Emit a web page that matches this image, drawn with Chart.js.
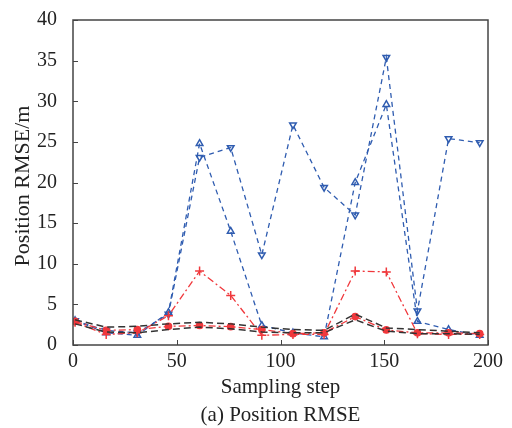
<!DOCTYPE html>
<html>
  <head>
    <script src="https://cdn.jsdelivr.net/npm/chart.js@4/dist/chart.umd.min.js"></script>
    <style>
      body { margin: 0; background: #fff; }
    </style>
  </head>
  <body>
    <div style="width: 512px; height: 428px">
      <canvas id="canvas"></canvas>
    </div>
    <script>
      // sampling steps and RMSE values
      const steps = [1, 16, 31, 46, 61, 76, 91, 106, 121, 136, 151, 166, 181, 196];
      const blueUp = [3.0, 1.5, 1.2, 4.0, 24.8, 14.0, 2.4, 1.5, 1.0, 20.0, 29.6, 2.9, 1.9, 1.2];
      const blueDown = [3.0, 1.8, 1.5, 3.8, 23.1, 24.3, 11.1, 27.1, 19.4, 16.0, 35.4, 4.2, 25.4, 24.9];
      const redCross = [2.8, 1.3, 1.5, 3.6, 9.1, 6.1, 1.2, 1.3, 1.3, 9.1, 9.0, 1.4, 1.3, 1.3];
      const redDot = [2.9, 1.8, 1.9, 2.3, 2.4, 2.25, 1.9, 1.4, 1.5, 3.5, 1.85, 1.5, 1.5, 1.4];
      const blackUpper = [3.1, 2.2, 2.3, 2.6, 2.8, 2.6, 2.2, 1.9, 1.8, 3.8, 2.1, 1.9, 1.7, 1.5];
      const blackLower = [2.6, 1.6, 1.5, 1.9, 2.2, 2.0, 1.6, 1.5, 1.5, 3.1, 1.7, 1.4, 1.4, 1.3];
      const xTicks = [0, 50, 100, 150, 200];
      const yTicks = [0, 5, 10, 15, 20, 25, 30, 35, 40];
      const xTitle = 'Sampling step';
      const yTitle = 'Position RMSE/m';
      const caption = '(a) Position RMSE';

      const pts = (vals) => vals.map((v, i) => ({ x: steps[i], y: v }));
      const serif = 'Liberation Serif, Times New Roman, serif';
      const blue = '#2f5cb0';
      const red = '#f0383c';
      const ink = '#222';

      // MATLAB style box with inward ticks, x labels and titles
      const frame = {
        id: 'frame',
        afterDraw(chart) {
          const { ctx, chartArea: a, scales } = chart;
          const cx = (a.left + a.right) / 2;
          ctx.save();
          ctx.strokeStyle = '#444';
          ctx.lineWidth = 1.5;
          ctx.strokeRect(a.left, a.top, a.right - a.left, a.bottom - a.top);
          ctx.lineWidth = 1;
          ctx.beginPath();
          xTicks.forEach((t) => {
            const px = Math.round(scales.x.getPixelForValue(t)) + 0.5;
            ctx.moveTo(px, a.bottom);
            ctx.lineTo(px, a.bottom - 5);
          });
          yTicks.forEach((t) => {
            const py = Math.round(scales.y.getPixelForValue(t)) + 0.5;
            ctx.moveTo(a.left, py);
            ctx.lineTo(a.left + 5, py);
          });
          ctx.stroke();

          ctx.fillStyle = ink;
          ctx.textAlign = 'center';
          ctx.textBaseline = 'middle';
          ctx.font = '20px ' + serif;
          xTicks.forEach((t) => {
            ctx.fillText(String(t), scales.x.getPixelForValue(t), a.bottom + 17);
          });
          ctx.font = '21px ' + serif;
          ctx.fillText(xTitle, cx, a.bottom + 42);
          ctx.fillText(caption, cx, a.bottom + 70);

          ctx.translate(23, 186);
          ctx.rotate(-Math.PI / 2);
          ctx.font = '22px ' + serif;
          ctx.fillText(yTitle, 0, 0);
          ctx.restore();
        },
      };

      new Chart(document.getElementById('canvas').getContext('2d'), {
        type: 'line',
        data: {
          datasets: [
            {
              data: pts(blackUpper),
              borderColor: '#333',
              borderWidth: 1.5,
              borderDash: [7, 4],
              pointRadius: 0,
            },
            {
              data: pts(blackLower),
              borderColor: '#333',
              borderWidth: 1.5,
              borderDash: [7, 4],
              pointRadius: 0,
            },
            {
              data: pts(redDot),
              borderColor: red,
              backgroundColor: red,
              borderWidth: 1.3,
              borderDash: [7, 3, 2, 3],
              pointStyle: 'circle',
              pointRadius: 3.2,
            },
            {
              data: pts(redCross),
              borderColor: red,
              borderWidth: 1.3,
              borderDash: [7, 3, 2, 3],
              pointStyle: 'cross',
              pointRadius: 4.5,
              pointBorderWidth: 1.5,
            },
            {
              data: pts(blueDown),
              borderColor: blue,
              backgroundColor: 'rgba(0,0,0,0)',
              borderWidth: 1.3,
              borderDash: [5, 4],
              pointStyle: 'triangle',
              pointRotation: 180,
              pointRadius: 3.8,
              pointBorderWidth: 1.5,
            },
            {
              data: pts(blueUp),
              borderColor: blue,
              backgroundColor: 'rgba(0,0,0,0)',
              borderWidth: 1.3,
              borderDash: [5, 4],
              pointStyle: 'triangle',
              pointRadius: 3.8,
              pointBorderWidth: 1.5,
            },
          ],
        },
        options: {
          responsive: true,
          maintainAspectRatio: false,
          animation: false,
          layout: { padding: { top: 20, right: 24, left: 0, bottom: 83 } },
          plugins: {
            legend: { display: false },
            tooltip: { enabled: false },
          },
          scales: {
            x: {
              type: 'linear',
              min: 0,
              max: 200,
              afterFit: (s) => { s.height = 0; s.paddingLeft = 0; s.paddingRight = 0; },
              grid: { display: false, drawTicks: false },
              border: { display: false },
              ticks: { display: false },
            },
            y: {
              min: 0,
              max: 40,
              afterFit: (s) => { s.width = 73; },
              afterBuildTicks: (s) => { s.ticks = yTicks.map((v) => ({ value: v })); },
              grid: { display: false },
              border: { display: false },
              ticks: { color: ink, padding: 8, font: { family: serif, size: 20 } },
            },
          },
        },
        plugins: [frame],
      });
    </script>
  </body>
</html>
